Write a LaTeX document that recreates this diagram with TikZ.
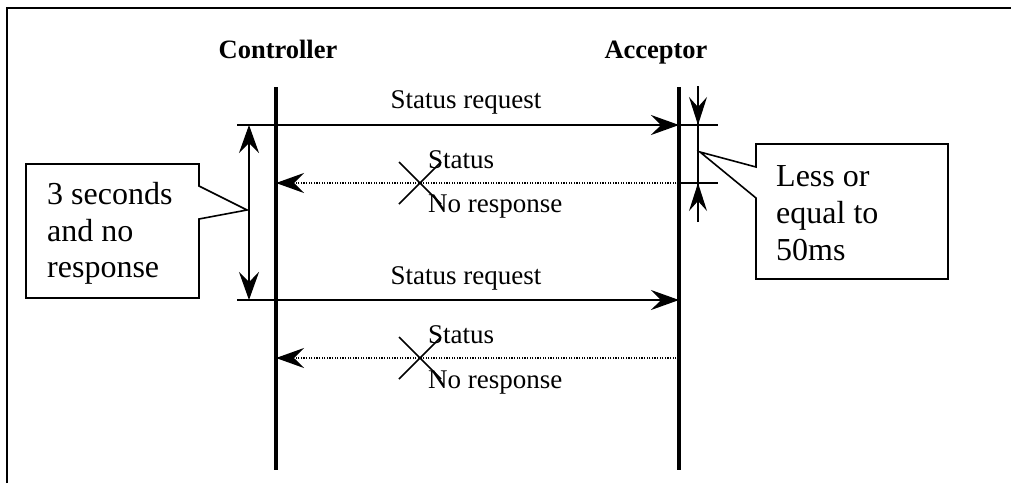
\documentclass[tikz,border=0pt]{standalone}
\usepackage{fontspec}
\setmainfont{Liberation Serif}
\usetikzlibrary{arrows.meta}
\tikzset{
  lifeline/.style={line width=3.4pt},
  thinline/.style={line width=1.3pt},
  msg/.style={line width=1.5pt,-{Stealth[length=28pt,width=20pt,inset=10pt]}},
  dotmsg/.style={line width=1.5pt,dash pattern=on 1.2pt off 1.4pt,-{Stealth[length=28pt,width=20pt,inset=10pt]}},
  meas/.style={line width=1.3pt,-{Stealth[length=28pt,width=18pt,inset=10pt]}},
  dmeas/.style={line width=1.3pt,{Stealth[length=28pt,width=20pt,inset=10pt]}-{Stealth[length=28pt,width=20pt,inset=10pt]}},
  head/.style={font=\fontsize{26.5}{30}\selectfont\bfseries,anchor=base,inner sep=0pt},
  lbl/.style={font=\fontsize{27}{31}\selectfont,inner sep=0pt},
  big/.style={font=\fontsize{32}{37}\selectfont,inner sep=0pt,anchor=base west},
  callout/.style={line width=1.6pt,fill=white,line join=miter},
  crossline/.style={line width=1.6pt}
}
\begin{document}
\begin{tikzpicture}[x=1pt,y=-1pt]
\useasboundingbox (0,0) rectangle (1011,483);
% frame
\draw[line width=2.2pt] (7,483) -- (7,8) -- (1011,8);

% headers
\node[head] (ctrl) at (278,58) {Controller};
\node[head] (acc) at (656,58) {Acceptor};

% lifelines
\coordinate (ctop) at (276,87);
\coordinate (cbot) at (276,470);
\coordinate (atop) at (679,87);
\coordinate (abot) at (679,470);
\draw[lifeline] (ctop) -- (cbot);
\draw[lifeline] (atop) -- (abot);

% message 1
\coordinate (e1l) at (237,125);
\coordinate (e1r) at (718,125);
\coordinate (c1) at (276,125);
\coordinate (a1) at (679,125);
\draw[thinline] (e1l) -- (e1r);
\draw[msg] (c1) -- (a1);
\node[lbl,anchor=base] (sr1) at (466,108) {Status request};

% dotted response 1
\coordinate (a2) at (679,183);
\coordinate (c2) at (276,183);
\coordinate (t2) at (718,183);
\draw[thinline] (a2) -- (t2);
\draw[dotmsg] (a2) -- (c2);
\coordinate (x1a) at (399,162);
\coordinate (x1b) at (441,204);
\coordinate (x1c) at (399,204);
\coordinate (x1d) at (441,162);
\draw[crossline] (x1a) -- (x1b);
\draw[crossline] (x1c) -- (x1d);
\node[lbl,anchor=base west] (st1) at (428,168) {Status};
\node[lbl,anchor=base west] (nr1) at (428,212) {No response};

% message 2
\coordinate (e3l) at (237,300);
\coordinate (c3) at (276,300);
\coordinate (a3) at (679,300);
\draw[thinline] (e3l) -- (c3);
\draw[msg] (c3) -- (a3);
\node[lbl,anchor=base] (sr2) at (466,284) {Status request};

% dotted response 2
\coordinate (a4) at (679,358);
\coordinate (c4) at (276,358);
\draw[dotmsg] (a4) -- (c4);
\coordinate (x2a) at (399,337);
\coordinate (x2b) at (441,379);
\coordinate (x2c) at (399,379);
\coordinate (x2d) at (441,337);
\draw[crossline] (x2a) -- (x2b);
\draw[crossline] (x2c) -- (x2d);
\node[lbl,anchor=base west] (st2) at (428,343) {Status};
\node[lbl,anchor=base west] (nr2) at (428,388) {No response};

% 3 s measurement
\coordinate (m1) at (249,125);
\coordinate (m2) at (249,300);
\draw[dmeas] (m1) -- (m2);

% 50 ms measurement
\coordinate (r0) at (698,86);
\coordinate (r1) at (698,125);
\coordinate (r2) at (698,183);
\coordinate (r3) at (698,222);
\draw[line width=1.3pt] (r0) -- (r3);
\draw[meas] (r0) -- (r1);
\draw[meas] (r3) -- (r2);

% left callout
\coordinate (lt) at (247,210);
\draw[callout] (26,164) -- (199,164) -- (199,186) -- (lt) -- (199,219) -- (199,298) -- (26,298) -- cycle;
\node[big] (l1) at (47,204) {3 seconds};
\node[big] (l2) at (47,241) {and no};
\node[big] (l3) at (47,277) {response};

% right callout
\coordinate (rt) at (700,152);
\draw[callout] (756,144) -- (948,144) -- (948,279) -- (756,279) -- (756,198) -- (rt) -- (756,167) -- cycle;
\node[big] (q1) at (776,186) {Less or};
\node[big] (q2) at (776,223) {equal to};
\node[big] (q3) at (776,260) {50ms};
\end{tikzpicture}
\end{document}
